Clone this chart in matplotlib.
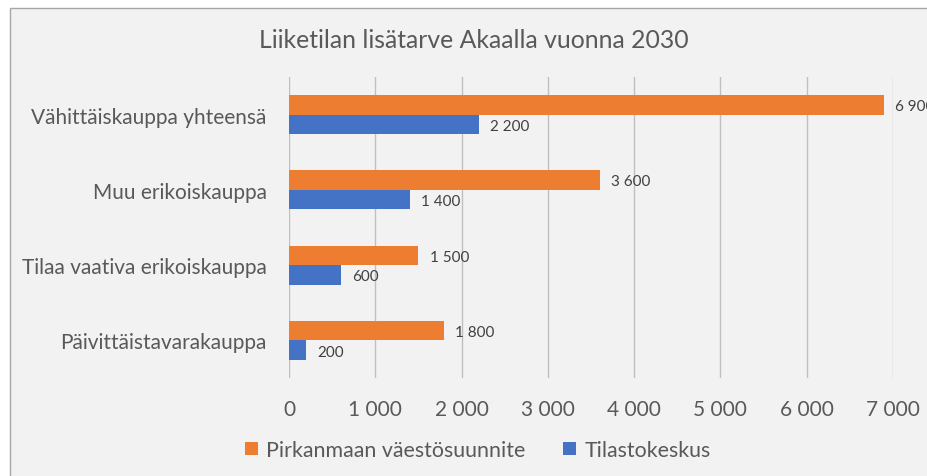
import matplotlib.pyplot as plt
from matplotlib.patches import Rectangle
from matplotlib.ticker import FuncFormatter

categories = [
    "Vähittäiskauppa yhteensä",
    "Muu erikoiskauppa",
    "Tilaa vaativa erikoiskauppa",
    "Päivittäistavarakauppa",
]
pirkanmaa = [6900, 3600, 1500, 1800]
tilastokeskus = [2200, 1400, 600, 200]
series_names = ["Pirkanmaan väestösuunnite", "Tilastokeskus"]
x_ticks = [0, 1000, 2000, 3000, 4000, 5000, 6000, 7000]

ORANGE = "#ED7D31"
BLUE = "#4472C4"
TEXT = "#595959"
GRID = "#BFBFBF"

plt.rcParams["font.family"] = ["Lato", "DejaVu Sans"]


def thousands(v, _pos=None):
    return f"{int(v):,}".replace(",", " ")


fig = plt.figure(figsize=(9.28, 4.77), dpi=100)
fig.patch.set_facecolor("white")
# chart area (extends past the right and bottom edge like the source crop)
fig.patches.append(Rectangle((10 / 928, -0.1), 1.2, 1.1 - 9 / 477,
                             transform=fig.transFigure, facecolor="#F2F2F2",
                             edgecolor="#A6A6A6", linewidth=1.0, zorder=-10))

ax = fig.add_axes([289 / 928, 1 - 379 / 477, 604 / 928, 301 / 477])
ax.set_facecolor("none")

h = 0.26
ys = list(range(len(categories)))
b1 = ax.barh([y - h / 2 for y in ys], pirkanmaa, height=h, color=ORANGE,
             label=series_names[0], zorder=3)
b2 = ax.barh([y + h / 2 for y in ys], tilastokeskus, height=h, color=BLUE,
             label=series_names[1], zorder=3)

for bars in (b1, b2):
    for r in bars:
        ax.annotate(thousands(r.get_width()),
                    xy=(r.get_width(), r.get_y() + r.get_height() / 2),
                    xytext=(8, -1), textcoords="offset points",
                    va="center", ha="left", fontsize=11, color="#404040",
                    annotation_clip=False)

ax.set_xlim(0, 7000)
ax.set_ylim(len(categories) - 0.5, -0.5)
ax.set_xticks(x_ticks)
ax.xaxis.set_major_formatter(FuncFormatter(thousands))
ax.set_yticks(ys)
ax.set_yticklabels(categories)
ax.tick_params(axis="x", length=0, pad=15, labelsize=15, labelcolor=TEXT)
ax.tick_params(axis="y", length=0, pad=16, labelsize=15, labelcolor=TEXT)
ax.grid(axis="x", color=GRID, linewidth=1.0, zorder=0)
ax.set_axisbelow(True)
for s in ax.spines.values():
    s.set_visible(False)

fig.text(474 / 928, 1 - 40 / 477, "Liiketilan lisätarve Akaalla vuonna 2030",
         ha="center", va="center", fontsize=17.8, color=TEXT)

fig.legend(handles=[b1, b2], labels=series_names, loc="center",
           bbox_to_anchor=(478 / 928, 1 - 451 / 477), ncol=2, frameon=False,
           handlelength=0.6, handleheight=0.6, handletextpad=0.4,
           columnspacing=1.75, fontsize=15.4, labelcolor=TEXT)

fig.savefig("out.png", dpi=100)
